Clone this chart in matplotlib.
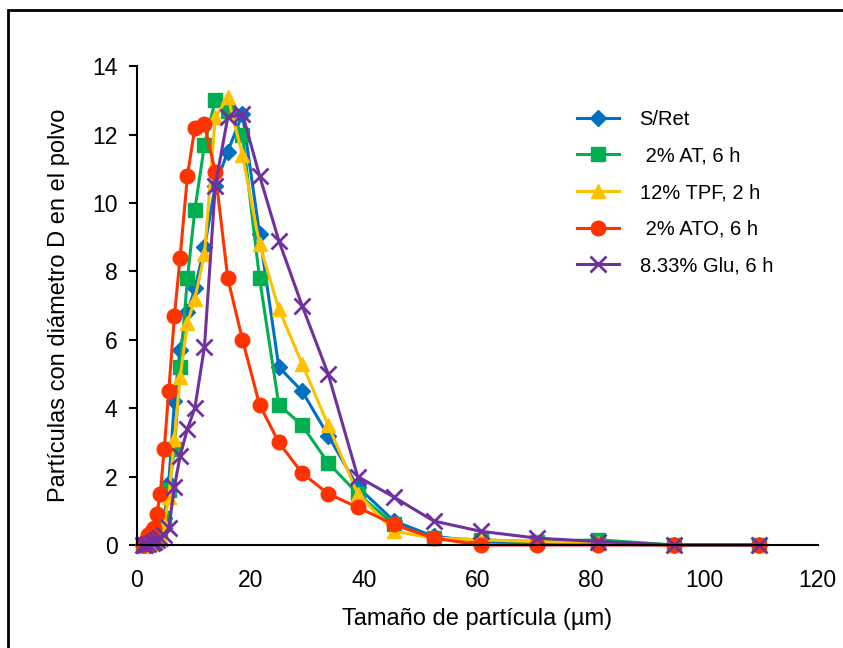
import matplotlib.pyplot as plt
from matplotlib.patches import Rectangle

# tamaño de partícula (um), common grid for all series
sizes = [1.0, 1.5, 2.0, 2.6, 3.0, 3.5, 4.1, 4.8, 5.6, 6.6, 7.6, 8.9, 10.2, 11.9,
         13.8, 16.0, 18.6, 21.6, 25.0, 29.1, 33.7, 38.9, 45.3, 52.3, 60.6, 70.5,
         81.3, 94.6, 109.6]

s_ret = [0, 0, 0.05, 0.1, 0.2, 0.3, 0.5, 0.8, 1.8, 4.2, 5.7, 6.8, 7.5, 8.7,
         10.5, 11.5, 12.6, 9.1, 5.2, 4.5, 3.2, 1.7, 0.7, 0.25, 0.1, 0.05, 0.02, 0, 0]
at_2 = [0, 0, 0.05, 0.1, 0.15, 0.2, 0.4, 0.8, 1.6, 2.8, 5.2, 7.8, 9.8, 11.7,
        13.0, 12.7, 12.0, 7.8, 4.1, 3.5, 2.4, 1.5, 0.6, 0.2, 0.15, 0.1, 0.15, 0, 0]
tpf_12 = [0, 0, 0.02, 0.05, 0.1, 0.15, 0.25, 0.6, 1.4, 3.1, 4.9, 6.5, 7.2, 8.5,
          12.5, 13.1, 11.4, 8.8, 6.9, 5.3, 3.5, 1.5, 0.4, 0.2, 0.15, 0.1, 0.05, 0, 0]
ato_2 = [0, 0.1, 0.3, 0.4, 0.5, 0.9, 1.5, 2.8, 4.5, 6.7, 8.4, 10.8, 12.2, 12.3,
         10.9, 7.8, 6.0, 4.1, 3.0, 2.1, 1.5, 1.1, 0.6, 0.2, 0, 0, 0, 0, 0]
glu = [0, 0, 0.02, 0.05, 0.1, 0.15, 0.2, 0.3, 0.5, 1.7, 2.6, 3.4, 4.0, 5.8,
       10.5, 12.5, 12.6, 10.8, 8.9, 7.0, 5.0, 2.0, 1.4, 0.7, 0.4, 0.2, 0.1, 0, 0]

series = [
    ("S/Ret", s_ret, "#0070C0", "D"),
    (" 2% AT, 6 h", at_2, "#00B050", "s"),
    ("12% TPF, 2 h", tpf_12, "#FFC000", "^"),
    (" 2% ATO, 6 h", ato_2, "#FF3300", "o"),
    ("8.33% Glu, 6 h", glu, "#7030A0", "x"),
]

plt.rcParams['font.family'] = ['Liberation Sans', 'DejaVu Sans']

fig = plt.figure(figsize=(8.43, 6.48), dpi=100)
ax = fig.add_axes([0.1625, 0.159, 0.8075, 0.739])

for name, vals, col, mk in series:
    ms = 8.5 if mk == "D" else 10.5
    if mk == "x":
        ax.plot(sizes, vals, color=col, lw=2.2, marker=mk, ms=11, mew=2,
                label=name, clip_on=False)
    else:
        ax.plot(sizes, vals, color=col, lw=2.2, marker=mk, ms=ms,
                label=name, clip_on=False)

ax.set_xlim(0, 120)
ax.set_ylim(0, 14)
ax.set_xticks(range(0, 121, 20))
ax.set_yticks(range(0, 15, 2))
ax.tick_params(axis='x', length=0, labelsize=16.5, pad=17)
ax.tick_params(axis='y', length=6, width=1.5, labelsize=16.5, pad=8)
for side in ['top', 'right']:
    ax.spines[side].set_visible(False)
ax.spines['left'].set_linewidth(1.5)
ax.spines['bottom'].set_linewidth(1.5)

ax.set_xlabel('Tamaño de partícula (µm)', fontsize=17, labelpad=12)
ax.set_ylabel('Partículas con diámetro D en el polvo', fontsize=17, labelpad=16)

ax.legend(loc='upper left', bbox_to_anchor=(0.62, 0.947), frameon=False,
          fontsize=14.5, handlelength=2.1, handletextpad=1.0, labelspacing=0.88)

fig.add_artist(Rectangle((8 / 843, -0.1), 1.2, 1 - 10 / 648 + 0.1,
                         transform=fig.transFigure, fill=False, lw=2,
                         edgecolor='black'))

fig.savefig('out.png', dpi=100)
